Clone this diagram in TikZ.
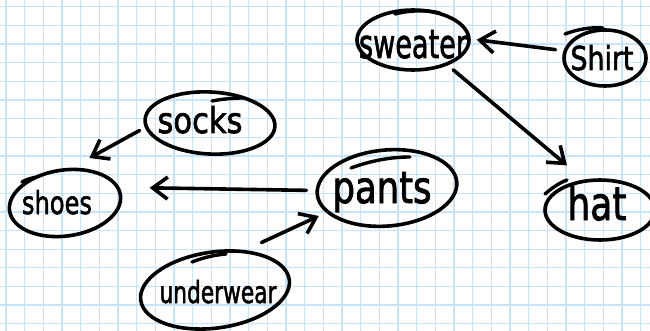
\documentclass[tikz,border=0pt]{standalone}
\usepackage{fontspec}
\setmainfont{DejaVu Sans}
\newfontfamily\handfont{DejaVu Sans}[FakeBold=2]
\usetikzlibrary{shapes.geometric,arrows.meta}
\definecolor{gridblue}{RGB}{200,228,248}
\newcommand{\hw}[3]{\resizebox{#1pt}{#2pt}{\handfont #3}}
\begin{document}
\begin{tikzpicture}[x=1pt,y=-1pt,
  oval/.style={ellipse, draw, line width=3.6pt, inner sep=0pt},
  lab/.style={anchor=base, inner sep=0pt},
  pentail/.style={line width=3.4pt, line cap=round},
  arr/.style={line width=3.6pt, line cap=round, line join=round,
    -{Straight Barb[length=15pt,width=22pt,line width=3.6pt]}},
  gridline/.style={gridblue, line width=1.3pt}]
\useasboundingbox (0,0) rectangle (650,331);
\fill[white] (0,0) rectangle (650,331);
\foreach \i in {0,...,34} \draw[gridline] ({6+18.67*\i},0) -- ++(0,331);
\foreach \i in {0,...,17} \draw[gridline] (0,{6.7+18.65*\i}) -- ++(650,0);

% ovals
\node[oval, minimum width=112pt, minimum height=60pt] (sweater) at (413,40) {};
\node[oval, minimum width=82pt, minimum height=56pt] (shirt) at (605,58) {};
\node[oval, minimum width=130pt, minimum height=62pt, rotate=-3] (socks) at (210,123) {};
\node[oval, minimum width=112pt, minimum height=66pt, rotate=8] (shoes) at (65,203) {};
\node[oval, minimum width=140pt, minimum height=76pt, rotate=5] (pants) at (387,188) {};
\node[oval, minimum width=110pt, minimum height=60pt] (hat) at (600,210) {};
\node[oval, minimum width=150pt, minimum height=76pt, rotate=8] (underwear) at (215,290) {};

% pen overlaps of the hand-drawn ovals
\draw[pentail] (395,14) .. controls (410,10) and (428,10) .. (440,13);
\draw[pentail] (565,34) .. controls (578,29) and (592,27) .. (603,28);
\draw[pentail] (212,101) .. controls (222,99) and (234,98) .. (243,98);
\draw[pentail] (22,182) .. controls (27,179) and (32,178) .. (37,177);
\draw[pentail] (351,168) .. controls (370,161) and (390,157) .. (410,157);
\draw[pentail] (545,194) .. controls (552,188) and (559,183) .. (567,180);
\draw[pentail] (192,262) .. controls (205,257) and (215,255) .. (226,254);

% labels
\node[lab] (sweater-t) at (413,58) {\hw{108}{28}{sweater}};
\node[lab] (shirt-t) at (602,70) {\hw{63}{25}{Shirt}};
\node[lab] (socks-t) at (200,133) {\hw{85}{27}{socks}};
\node[lab] (shoes-t) at (57,214) {\hw{70}{24}{shoes}};
\node[lab] (pants-t) at (382,203) {\hw{99}{31}{pants}};
\node[lab] (hat-t) at (597,220) {\hw{59}{35}{hat}};
\node[lab] (underwear-t) at (218,303) {\hw{117}{23}{underwear}};

% connectors
\draw[arr, shorten <=8pt, shorten >=6pt] (shirt.170) -- (sweater.1);
\draw[arr, shorten <=7pt, shorten >=22pt] (sweater.-36) -- (hat.118);
\draw[arr, shorten <=6pt, shorten >=20pt] (socks.187) -- (shoes.71);
\draw[arr, shorten <=9pt, shorten >=30pt] (pants.177) -- (shoes.8);
\draw[arr, shorten <=18pt, shorten >=8pt] (underwear.45) -- (pants.197);
\end{tikzpicture}
\end{document}
